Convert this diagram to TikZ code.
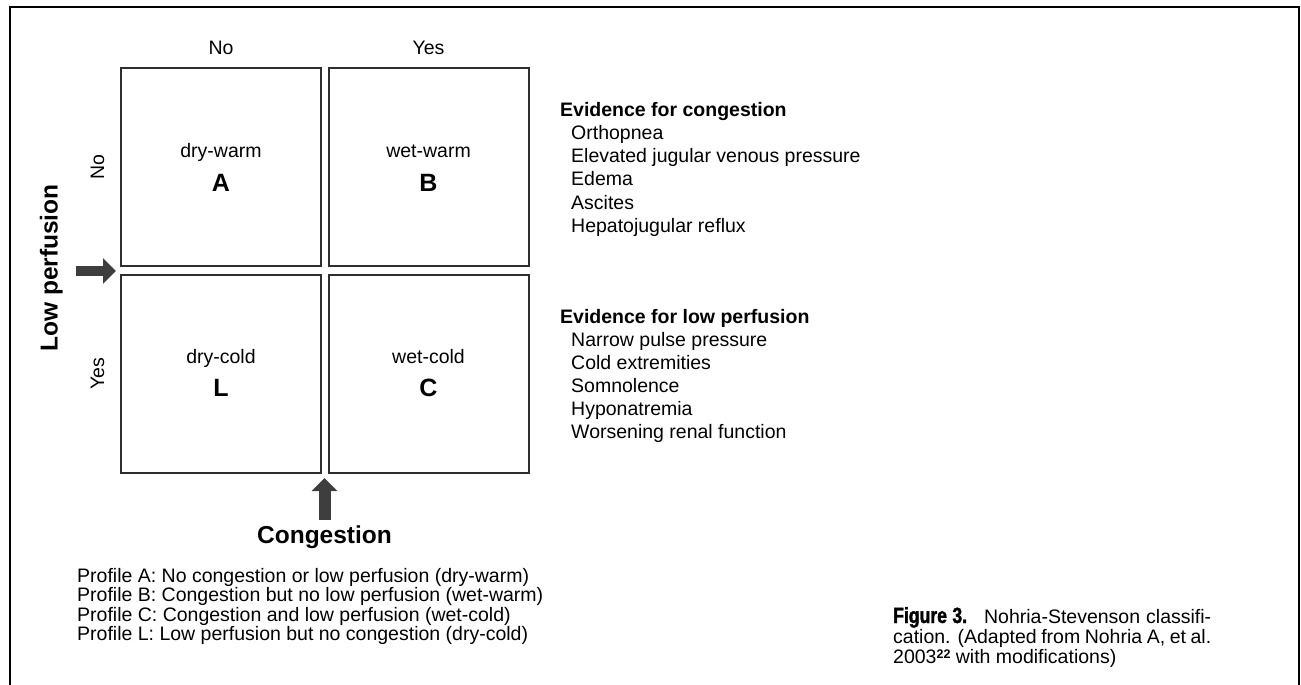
\documentclass[tikz,border=0pt]{standalone}
\usepackage{fontspec}
\setmainfont{Liberation Sans}
\newfontfamily\figfont{Liberation Sans}[FakeStretch=0.8,FakeBold=1.5]
\usetikzlibrary{arrows.meta}

\definecolor{ink}{HTML}{2E2E2E}
\definecolor{arrowgray}{HTML}{3E3E3E}

\newcommand\bodyfs{\fontsize{19.5pt}{23pt}\selectfont}
\newcommand\axisfs{\fontsize{24.5pt}{28pt}\selectfont\bfseries}
\newcommand\letterfs{\fontsize{25pt}{28pt}\selectfont\bfseries}
\newcommand\capfs{\fontsize{19.5pt}{20pt}\selectfont}

\begin{document}
\begin{tikzpicture}[x=1pt,y=-1pt,
  cell/.style={draw=ink, line width=2pt, minimum width=200pt,
               minimum height=198pt, inner sep=0pt},
  txt/.style={inner sep=0pt, anchor=base, font=\bodyfs},
  ltxt/.style={inner sep=0pt, anchor=base west, font=\bodyfs},
  head/.style={inner sep=0pt, anchor=base west, font=\bodyfs\bfseries},
  big/.style={inner sep=0pt, anchor=base, font=\letterfs},
  axis/.style={inner sep=0pt, anchor=base, font=\axisfs},
  captxt/.style={inner sep=0pt, anchor=base west, font=\capfs},
  pointer/.style={draw=arrowgray, -{Triangle[length=13pt,width=25pt]}},
  frame/.style={draw=black, line width=2.4pt}
]
\useasboundingbox (0,0) rectangle (1301,685);

% open frame (no bottom edge)
\draw[frame] (10,690) -- (10,7) -- (1299,7) -- (1299,690);

% the four profile cells
\node[cell] (A) at (221,167)   {};
\node[cell] (B) at (428.5,167) {};
\node[cell] (L) at (221,373.5) {};
\node[cell] (C) at (428.5,373.5) {};

\node[txt] (Aname) at (221,157) {dry-warm};
\node[big] (Aid)   at (221,191) {A};
\node[txt] (Bname) at (428.5,157) {wet-warm};
\node[big] (Bid)   at (428.5,191) {B};
\node[txt] (Lname) at (221,363) {dry-cold};
\node[big] (Lid)   at (221,396) {L};
\node[txt] (Cname) at (428.5,363) {wet-cold};
\node[big] (Cid)   at (428.5,396) {C};

% column and row headings
\node[txt] (colNo)  at (221,55)   {No};
\node[txt] (colYes) at (428.5,55) {Yes};
\node[txt, rotate=90] (rowNo)  at (104,167)   {No};
\node[txt, rotate=90] (rowYes) at (104,373.5) {Yes};

% axis titles with their pointers
\node[axis, rotate=90] (lowperf) at (57.5,268) {Low perfusion};
\node[axis] (congestion) at (324.5,543) {Congestion};

\coordinate (lpTail) at (75.5,271);
\coordinate (lpTip)  at (116,271);
\draw[pointer, line width=10pt] (lpTail) -- (lpTip);

\coordinate (cgTail) at (324.5,519.5);
\coordinate (cgTip)  at (324.5,478);
\draw[pointer, line width=12pt] (cgTail) -- (cgTip);

% evidence lists
\node[head] (cg0) at (560,116) {Evidence for congestion};
\foreach \t [count=\i] in {Orthopnea, Elevated jugular venous pressure,
    Edema, Ascites, Hepatojugular reflux}
  \node[ltxt] (cg\i) at (571,116+23.3*\i) {\t};

\node[head] (lp0) at (560,323) {Evidence for low perfusion};
\foreach \t [count=\i] in {Narrow pulse pressure, Cold extremities,
    Somnolence, Hyponatremia, Worsening renal function}
  \node[ltxt] (lp\i) at (571,323+23*\i) {\t};

% profile legend
\node[ltxt] (pA) at (77,582)   {Profile A: No congestion or low perfusion (dry-warm)};
\node[ltxt] (pB) at (77,601.5) {Profile B: Congestion but no low perfusion (wet-warm)};
\node[ltxt] (pC) at (77,621)   {Profile C: Congestion and low perfusion (wet-cold)};
\node[ltxt] (pL) at (77,640.5) {Profile L: Low perfusion but no congestion (dry-cold)};

% figure caption
\node[captxt] (cap1) at (893,623)
  {\makebox[318pt][s]{{\figfont\bfseries\fontsize{22pt}{20pt}\selectfont Figure 3.}\hspace{8pt} Nohria-Stevenson classifi-}};
\node[captxt] (cap2) at (893,643)
  {\makebox[318pt][s]{cation. (Adapted from Nohria A, et al.}};
\node[captxt] (cap3) at (893,663)
  {2003\raisebox{5pt}{\fontsize{12.5pt}{12pt}\selectfont\bfseries 22} with modifications)};
\end{tikzpicture}
\end{document}
